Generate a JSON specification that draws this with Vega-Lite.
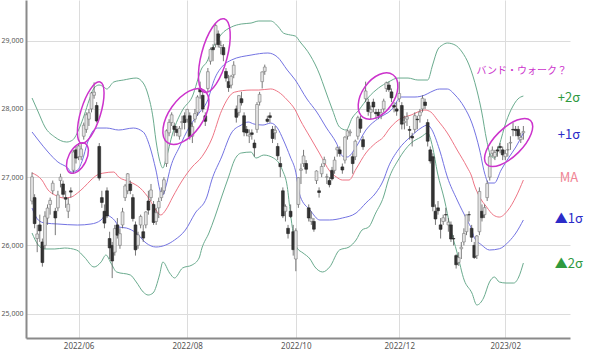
{
"$schema":"https://vega.github.io/schema/vega-lite/v6.json",
"width":544,"height":338,
"autosize":{"type":"none"},
"padding":{"left":26,"top":0,"right":30,"bottom":13},
"background":"white",
"config":{"view":{"stroke":null},"axis":{"gridColor":"#dcdcdc","gridWidth":1,"domainColor":"#8a8a8a","domainWidth":2,"ticks":false,"labelColor":"#555","labelFont":"Noto Sans"},"axisY":{"labelFontSize":7,"labelPadding":3},"axisX":{"labelFontSize":8,"labelPadding":4}},
"datasets":{
"candles":[
{"i":0,"o":26650,"h":27070,"l":26600,"c":27003},{"i":1,"o":26700,"h":26750,"l":26250,"c":26319},{"i":2,"o":26100,"h":26300,"l":25900,"c":26167},{"i":3,"o":26300,"h":26450,"l":26050,"c":26213},{"i":4,"o":26050,"h":26100,"l":25688,"c":25748},{"i":5,"o":26000,"h":26500,"l":25950,"c":26427},{"i":6,"o":26400,"h":26600,"l":26300,"c":26547},{"i":7,"o":26600,"h":26700,"l":26450,"c":26659},{"i":8,"o":26800,"h":26950,"l":26750,"c":26911},{"i":9,"o":26500,"h":26550,"l":26150,"c":26402},
{"i":10,"o":26550,"h":26800,"l":26500,"c":26739},{"i":11,"o":26950,"h":27050,"l":26850,"c":27001},{"i":12,"o":26900,"h":26950,"l":26700,"c":26748},{"i":13,"o":26700,"h":26800,"l":26550,"c":26677},{"i":14,"o":26500,"h":26700,"l":26400,"c":26604},{"i":15,"o":26800,"h":26850,"l":26700,"c":26781},{"i":16,"o":27100,"h":27400,"l":27050,"c":27369},{"i":17,"o":27400,"h":27450,"l":27200,"c":27279},{"i":18,"o":27300,"h":27500,"l":27250,"c":27457},{"i":19,"o":27300,"h":27500,"l":27250,"c":27413},
{"i":20,"o":27600,"h":27800,"l":27550,"c":27761},{"i":21,"o":27700,"h":27950,"l":27650,"c":27915},{"i":22,"o":27850,"h":28000,"l":27750,"c":27943},{"i":23,"o":28000,"h":28250,"l":27950,"c":28234},{"i":24,"o":28200,"h":28389,"l":28150,"c":28246},{"i":25,"o":28050,"h":28100,"l":27800,"c":27824},{"i":26,"o":27450,"h":27500,"l":26950,"c":26987},{"i":27,"o":26700,"h":26800,"l":26550,"c":26629},{"i":28,"o":26500,"h":26600,"l":26250,"c":26326},{"i":29,"o":26800,"h":26850,"l":26400,"c":26431},
{"i":30,"o":26100,"h":26200,"l":25800,"c":25963},{"i":31,"o":26000,"h":26050,"l":25520,"c":25771},{"i":32,"o":25900,"h":26300,"l":25850,"c":26246},{"i":33,"o":26300,"h":26400,"l":26100,"c":26149},{"i":34,"o":26000,"h":26250,"l":25950,"c":26171},{"i":35,"o":26300,"h":26550,"l":26250,"c":26491},{"i":36,"o":26700,"h":26900,"l":26650,"c":26871},{"i":37,"o":26800,"h":27060,"l":26750,"c":27049},{"i":38,"o":26900,"h":26950,"l":26750,"c":26804},{"i":39,"o":26700,"h":26750,"l":26350,"c":26393},
{"i":40,"o":26300,"h":26350,"l":25850,"c":25935},{"i":41,"o":26000,"h":26200,"l":25950,"c":26153},{"i":42,"o":26300,"h":26450,"l":26250,"c":26423},{"i":43,"o":26200,"h":26300,"l":26050,"c":26107},{"i":44,"o":26300,"h":26500,"l":26250,"c":26490},{"i":45,"o":26650,"h":26800,"l":26450,"c":26517},{"i":46,"o":26700,"h":26900,"l":26650,"c":26812},{"i":47,"o":26600,"h":26650,"l":26300,"c":26336},{"i":48,"o":26350,"h":26550,"l":26300,"c":26478},{"i":49,"o":26550,"h":26700,"l":26400,"c":26643},
{"i":50,"o":26700,"h":26850,"l":26650,"c":26788},{"i":51,"o":26800,"h":27000,"l":26750,"c":26961},{"i":52,"o":27200,"h":27700,"l":27150,"c":27680},{"i":53,"o":27650,"h":27850,"l":27600,"c":27803},{"i":54,"o":27800,"h":27950,"l":27750,"c":27914},{"i":55,"o":27750,"h":27800,"l":27600,"c":27699},{"i":56,"o":27700,"h":27750,"l":27600,"c":27655},{"i":57,"o":27600,"h":27750,"l":27550,"c":27715},{"i":58,"o":27800,"h":27900,"l":27700,"c":27815},{"i":59,"o":27900,"h":27950,"l":27700,"c":27801},
{"i":60,"o":27850,"h":28000,"l":27800,"c":27993},{"i":61,"o":27900,"h":27950,"l":27550,"c":27594},{"i":62,"o":27600,"h":27800,"l":27500,"c":27741},{"i":63,"o":27850,"h":28000,"l":27800,"c":27932},{"i":64,"o":27950,"h":28200,"l":27900,"c":28175},{"i":65,"o":28300,"h":28400,"l":28150,"c":28249},{"i":66,"o":28200,"h":28250,"l":27950,"c":27999},{"i":67,"o":27900,"h":27950,"l":27750,"c":27819},{"i":68,"o":28300,"h":28600,"l":28250,"c":28546},{"i":69,"o":28700,"h":28900,"l":28650,"c":28871},
{"i":70,"o":28900,"h":28950,"l":28700,"c":28868},{"i":71,"o":28950,"h":29250,"l":28900,"c":29222},{"i":72,"o":29100,"h":29150,"l":28900,"c":28942},{"i":73,"o":28900,"h":29000,"l":28800,"c":28930},{"i":74,"o":28900,"h":28950,"l":28700,"c":28794},{"i":75,"o":28550,"h":28600,"l":28400,"c":28452},{"i":76,"o":28400,"h":28500,"l":28250,"c":28313},{"i":77,"o":28350,"h":28500,"l":28300,"c":28479},{"i":78,"o":28500,"h":28700,"l":28450,"c":28641},{"i":79,"o":28000,"h":28050,"l":27800,"c":27878},
{"i":80,"o":27950,"h":28200,"l":27900,"c":28195},{"i":81,"o":28150,"h":28250,"l":28050,"c":28091},{"i":82,"o":27900,"h":27950,"l":27600,"c":27661},{"i":83,"o":27700,"h":27750,"l":27600,"c":27650},{"i":84,"o":27600,"h":27700,"l":27500,"c":27619},{"i":85,"o":27650,"h":27700,"l":27550,"c":27626},{"i":86,"o":27500,"h":27550,"l":27300,"c":27430},{"i":87,"o":27700,"h":28100,"l":27650,"c":28065},{"i":88,"o":28100,"h":28250,"l":28050,"c":28214},{"i":89,"o":28400,"h":28550,"l":28300,"c":28542},
{"i":90,"o":28550,"h":28650,"l":28500,"c":28614},{"i":91,"o":27850,"h":27900,"l":27800,"c":27818},{"i":92,"o":27900,"h":27950,"l":27800,"c":27875},{"i":93,"o":27700,"h":27750,"l":27500,"c":27567},{"i":94,"o":27650,"h":27750,"l":27550,"c":27688},{"i":95,"o":27450,"h":27500,"l":27250,"c":27313},{"i":96,"o":27200,"h":27300,"l":27000,"c":27153},{"i":97,"o":26800,"h":26850,"l":26400,"c":26431},{"i":98,"o":26500,"h":26600,"l":26350,"c":26571},{"i":99,"o":26250,"h":26300,"l":26100,"c":26173},
{"i":100,"o":26500,"h":26600,"l":26400,"c":26422},{"i":101,"o":26200,"h":26300,"l":25850,"c":25937},{"i":102,"o":25800,"h":26250,"l":25621,"c":26215},{"i":103,"o":26600,"h":27000,"l":26550,"c":26992},{"i":104,"o":27100,"h":27200,"l":26900,"c":27120},{"i":105,"o":27200,"h":27400,"l":27150,"c":27311},{"i":106,"o":27200,"h":27250,"l":27050,"c":27116},{"i":107,"o":26550,"h":26600,"l":26350,"c":26401},{"i":108,"o":26350,"h":26500,"l":26300,"c":26397},{"i":109,"o":26350,"h":26400,"l":26200,"c":26237},
{"i":110,"o":26950,"h":27100,"l":26900,"c":27090},{"i":111,"o":26800,"h":26850,"l":26700,"c":26775},{"i":112,"o":27050,"h":27200,"l":27000,"c":27156},{"i":113,"o":27200,"h":27300,"l":27150,"c":27257},{"i":114,"o":27000,"h":27050,"l":26900,"c":27006},{"i":115,"o":26950,"h":27000,"l":26850,"c":26890},{"i":116,"o":27100,"h":27150,"l":26950,"c":26974},{"i":117,"o":27100,"h":27300,"l":27050,"c":27250},{"i":118,"o":27400,"h":27450,"l":27300,"c":27431},{"i":119,"o":27400,"h":27450,"l":27300,"c":27345},
{"i":120,"o":27150,"h":27200,"l":27050,"c":27105},{"i":121,"o":27250,"h":27600,"l":27200,"c":27587},{"i":122,"o":27600,"h":27700,"l":27550,"c":27678},{"i":123,"o":27650,"h":27700,"l":27600,"c":27663},{"i":124,"o":27300,"h":27350,"l":27050,"c":27199},{"i":125,"o":27300,"h":27550,"l":27250,"c":27527},{"i":126,"o":27600,"h":27900,"l":27550,"c":27872},{"i":127,"o":27850,"h":27900,"l":27650,"c":27716},{"i":128,"o":27550,"h":27600,"l":27400,"c":27446},{"i":129,"o":28150,"h":28400,"l":28100,"c":28263},
{"i":130,"o":28100,"h":28150,"l":27900,"c":27963},{"i":131,"o":27950,"h":28050,"l":27850,"c":27990},{"i":132,"o":28100,"h":28150,"l":27950,"c":28028},{"i":133,"o":27950,"h":28000,"l":27850,"c":27930},{"i":134,"o":27950,"h":28000,"l":27850,"c":27899},{"i":135,"o":27900,"h":28000,"l":27850,"c":27944},{"i":136,"o":28000,"h":28150,"l":27950,"c":28115},{"i":137,"o":28300,"h":28400,"l":28250,"c":28383},{"i":138,"o":28350,"h":28400,"l":28250,"c":28283},{"i":139,"o":28250,"h":28300,"l":28100,"c":28162},
{"i":140,"o":28050,"h":28100,"l":27950,"c":28027},{"i":141,"o":28000,"h":28100,"l":27900,"c":27968},{"i":142,"o":28150,"h":28400,"l":28100,"c":28226},{"i":143,"o":28050,"h":28100,"l":27700,"c":27777},{"i":144,"o":27800,"h":27900,"l":27700,"c":27820},{"i":145,"o":27850,"h":27950,"l":27750,"c":27885},{"i":146,"o":27700,"h":27750,"l":27550,"c":27686},{"i":147,"o":27600,"h":27650,"l":27450,"c":27574},{"i":148,"o":27700,"h":27950,"l":27650,"c":27901},{"i":149,"o":27850,"h":27900,"l":27700,"c":27842},
{"i":150,"o":27900,"h":28000,"l":27800,"c":27954},{"i":151,"o":28000,"h":28200,"l":27950,"c":28156},{"i":152,"o":28100,"h":28150,"l":28000,"c":28051},{"i":153,"o":27800,"h":27850,"l":27450,"c":27527},{"i":154,"o":27400,"h":27450,"l":27200,"c":27237},{"i":155,"o":27300,"h":27350,"l":26500,"c":26568},{"i":156,"o":26500,"h":26600,"l":26300,"c":26387},{"i":157,"o":26550,"h":26650,"l":26450,"c":26507},{"i":158,"o":26300,"h":26400,"l":26100,"c":26235},{"i":159,"o":26350,"h":26450,"l":26300,"c":26405},
{"i":160,"o":26450,"h":26550,"l":26350,"c":26447},{"i":161,"o":26300,"h":26400,"l":26200,"c":26340},{"i":162,"o":26300,"h":26350,"l":26050,"c":26093},{"i":163,"o":26100,"h":26150,"l":26000,"c":26094},{"i":164,"o":25850,"h":25870,"l":25660,"c":25716},{"i":165,"o":25750,"h":25900,"l":25700,"c":25820},{"i":166,"o":25950,"h":26050,"l":25800,"c":25973},{"i":167,"o":26050,"h":26250,"l":26000,"c":26175},{"i":168,"o":26200,"h":26450,"l":26150,"c":26446},{"i":169,"o":26450,"h":26500,"l":26350,"c":26449},
{"i":170,"o":26250,"h":26300,"l":26050,"c":26119},{"i":171,"o":26000,"h":26050,"l":25800,"c":25822},{"i":172,"o":25850,"h":26150,"l":25800,"c":26138},{"i":173,"o":26200,"h":26850,"l":26150,"c":26791},{"i":174,"o":26500,"h":26600,"l":26350,"c":26405},{"i":175,"o":26450,"h":26600,"l":26400,"c":26553},{"i":176,"o":26700,"h":26950,"l":26650,"c":26906},{"i":177,"o":27000,"h":27350,"l":26950,"c":27299},{"i":178,"o":27350,"h":27450,"l":27300,"c":27395},{"i":179,"o":27300,"h":27400,"l":27250,"c":27362},
{"i":180,"o":27400,"h":27450,"l":27300,"c":27382},{"i":181,"o":27450,"h":27500,"l":27350,"c":27433},{"i":182,"o":27400,"h":27450,"l":27250,"c":27327},{"i":183,"o":27300,"h":27400,"l":27250,"c":27346},{"i":184,"o":27400,"h":27500,"l":27300,"c":27402},{"i":185,"o":27500,"h":27600,"l":27400,"c":27509},{"i":186,"o":27700,"h":27800,"l":27600,"c":27693},{"i":187,"o":27700,"h":27750,"l":27600,"c":27685},{"i":188,"o":27700,"h":27750,"l":27550,"c":27606},{"i":189,"o":27550,"h":27650,"l":27500,"c":27584},
{"i":190,"o":27650,"h":27750,"l":27550,"c":27670}
],
"bands":[
{"b":"u2","i":0,"p":28160},{"b":"u2","i":2.4,"p":27955},{"b":"u2","i":5,"p":27735},{"b":"u2","i":8.8,"p":27588},{"b":"u2","i":13.4,"p":27515},{"b":"u2","i":15.7,"p":27544},{"b":"u2","i":18.3,"p":27720},{"b":"u2","i":20.2,"p":27911},{"b":"u2","i":22.1,"p":28131},{"b":"u2","i":24,"p":28307},{"b":"u2","i":25.9,"p":28351},{"b":"u2","i":27.8,"p":28321},{"b":"u2","i":28.9,"p":28292},{"b":"u2","i":31.6,"p":28395},{"b":"u2","i":35.4,"p":28424},{"b":"u2","i":40.3,"p":28453},{"b":"u2","i":43,"p":28380},{"b":"u2","i":44.9,"p":28204},{"b":"u2","i":46.8,"p":27867},{"b":"u2","i":47.9,"p":27544},{"b":"u2","i":49.3,"p":27251},{"b":"u2","i":50.6,"p":27134},{"b":"u2","i":51.7,"p":27251},{"b":"u2","i":54.4,"p":27647},{"b":"u2","i":58.2,"p":27984},{"b":"u2","i":61.9,"p":28175},{"b":"u2","i":65.7,"p":28600},{"b":"u2","i":67.6,"p":28690},{"b":"u2","i":69.5,"p":28864},{"b":"u2","i":73.3,"p":29098},{"b":"u2","i":77.1,"p":29201},{"b":"u2","i":80.9,"p":29245},{"b":"u2","i":84.7,"p":29259},{"b":"u2","i":87.7,"p":29289},{"b":"u2","i":92.3,"p":29289},{"b":"u2","i":95.3,"p":29201},{"b":"u2","i":97.2,"p":29113},{"b":"u2","i":99.9,"p":29084},{"b":"u2","i":101.8,"p":29069},{"b":"u2","i":103.7,"p":28981},{"b":"u2","i":107.5,"p":28790},{"b":"u2","i":111.3,"p":28497},{"b":"u2","i":113.1,"p":28307},{"b":"u2","i":116.2,"p":27984},{"b":"u2","i":118.9,"p":27735},{"b":"u2","i":121.5,"p":27691},{"b":"u2","i":123.8,"p":27867},{"b":"u2","i":126.4,"p":27984},{"b":"u2","i":130.2,"p":28175},{"b":"u2","i":134,"p":28307},{"b":"u2","i":137.8,"p":28395},{"b":"u2","i":141.6,"p":28453},{"b":"u2","i":145.4,"p":28453},{"b":"u2","i":149.2,"p":28424},{"b":"u2","i":153,"p":28424},{"b":"u2","i":154.9,"p":28644},{"b":"u2","i":156.8,"p":28864},{"b":"u2","i":158.7,"p":28937},{"b":"u2","i":160.6,"p":28966},{"b":"u2","i":163.6,"p":28937},{"b":"u2","i":166.3,"p":28834},{"b":"u2","i":169,"p":28644},{"b":"u2","i":172,"p":28277},{"b":"u2","i":173.9,"p":27955},{"b":"u2","i":175.8,"p":27544},{"b":"u2","i":177.3,"p":27324},{"b":"u2","i":178.8,"p":27280},{"b":"u2","i":180.7,"p":27471},{"b":"u2","i":183.3,"p":27808},{"b":"u2","i":186,"p":28043},{"b":"u2","i":187.9,"p":28146},{"b":"u2","i":190,"p":28189},
{"b":"u1","i":0,"p":27662},{"b":"u1","i":2.4,"p":27544},{"b":"u1","i":6.2,"p":27368},{"b":"u1","i":10,"p":27222},{"b":"u1","i":13.8,"p":27134},{"b":"u1","i":15.2,"p":27075},{"b":"u1","i":17.6,"p":27105},{"b":"u1","i":19.5,"p":27251},{"b":"u1","i":21.4,"p":27500},{"b":"u1","i":23.3,"p":27662},{"b":"u1","i":25.2,"p":27720},{"b":"u1","i":28.9,"p":27720},{"b":"u1","i":33.5,"p":27691},{"b":"u1","i":39.2,"p":27720},{"b":"u1","i":43,"p":27662},{"b":"u1","i":45.6,"p":27442},{"b":"u1","i":47.9,"p":27105},{"b":"u1","i":49.8,"p":26768},{"b":"u1","i":50.6,"p":26739},{"b":"u1","i":51.7,"p":26856},{"b":"u1","i":53.6,"p":27149},{"b":"u1","i":57,"p":27442},{"b":"u1","i":60.8,"p":27735},{"b":"u1","i":64.6,"p":27940},{"b":"u1","i":67.6,"p":28100},{"b":"u1","i":70.7,"p":28450},{"b":"u1","i":74.1,"p":28644},{"b":"u1","i":77.1,"p":28717},{"b":"u1","i":84.7,"p":28790},{"b":"u1","i":91.2,"p":28820},{"b":"u1","i":94.9,"p":28761},{"b":"u1","i":98.7,"p":28570},{"b":"u1","i":101.8,"p":28424},{"b":"u1","i":106.3,"p":28146},{"b":"u1","i":110.1,"p":27955},{"b":"u1","i":113.9,"p":27720},{"b":"u1","i":117.7,"p":27500},{"b":"u1","i":120,"p":27310},{"b":"u1","i":121.9,"p":27295},{"b":"u1","i":125.3,"p":27442},{"b":"u1","i":129.1,"p":27691},{"b":"u1","i":134,"p":27864},{"b":"u1","i":138.9,"p":27984},{"b":"u1","i":142.8,"p":28175},{"b":"u1","i":148.1,"p":28175},{"b":"u1","i":151.9,"p":28204},{"b":"u1","i":154.2,"p":28248},{"b":"u1","i":157.6,"p":28292},{"b":"u1","i":160.6,"p":28292},{"b":"u1","i":163.6,"p":28204},{"b":"u1","i":167.1,"p":28028},{"b":"u1","i":170.1,"p":27793},{"b":"u1","i":173.1,"p":27398},{"b":"u1","i":175,"p":27061},{"b":"u1","i":176.6,"p":26914},{"b":"u1","i":178.8,"p":26914},{"b":"u1","i":181.4,"p":27105},{"b":"u1","i":184.5,"p":27295},{"b":"u1","i":187.1,"p":27442},{"b":"u1","i":190,"p":27647},
{"b":"ma","i":0,"p":27061},{"b":"ma","i":3.8,"p":26958},{"b":"ma","i":6.2,"p":26812},{"b":"ma","i":8.8,"p":26739},{"b":"ma","i":12.6,"p":26694},{"b":"ma","i":15.2,"p":26709},{"b":"ma","i":17.6,"p":26768},{"b":"ma","i":20.2,"p":26856},{"b":"ma","i":22.8,"p":26958},{"b":"ma","i":25.2,"p":27032},{"b":"ma","i":27.8,"p":27061},{"b":"ma","i":31.6,"p":27075},{"b":"ma","i":33.5,"p":27002},{"b":"ma","i":38,"p":26929},{"b":"ma","i":41.8,"p":26841},{"b":"ma","i":45.6,"p":26665},{"b":"ma","i":47.9,"p":26518},{"b":"ma","i":49.8,"p":26445},{"b":"ma","i":51.7,"p":26518},{"b":"ma","i":54.4,"p":26709},{"b":"ma","i":58.2,"p":26958},{"b":"ma","i":61.9,"p":27149},{"b":"ma","i":65.7,"p":27300},{"b":"ma","i":69.5,"p":27560},{"b":"ma","i":73.3,"p":27974},{"b":"ma","i":78.3,"p":28246},{"b":"ma","i":84.7,"p":28277},{"b":"ma","i":87.7,"p":28277},{"b":"ma","i":92.3,"p":28293},{"b":"ma","i":95.3,"p":28248},{"b":"ma","i":98.7,"p":28131},{"b":"ma","i":101.8,"p":27984},{"b":"ma","i":103.7,"p":27838},{"b":"ma","i":107.5,"p":27588},{"b":"ma","i":111.3,"p":27340},{"b":"ma","i":115.1,"p":27090},{"b":"ma","i":117.7,"p":27002},{"b":"ma","i":120,"p":26958},{"b":"ma","i":122.6,"p":26958},{"b":"ma","i":125.3,"p":27120},{"b":"ma","i":129.1,"p":27354},{"b":"ma","i":132.9,"p":27500},{"b":"ma","i":135.9,"p":27588},{"b":"ma","i":137.8,"p":27691},{"b":"ma","i":141.6,"p":27837},{"b":"ma","i":146.6,"p":27911},{"b":"ma","i":151.9,"p":27984},{"b":"ma","i":154.2,"p":27955},{"b":"ma","i":156.8,"p":27837},{"b":"ma","i":160.6,"p":27647},{"b":"ma","i":164.4,"p":27398},{"b":"ma","i":168.2,"p":27149},{"b":"ma","i":170.1,"p":27002},{"b":"ma","i":170.9,"p":26900},{"b":"ma","i":173.1,"p":26709},{"b":"ma","i":175.8,"p":26562},{"b":"ma","i":178.4,"p":26445},{"b":"ma","i":180.7,"p":26415},{"b":"ma","i":184.1,"p":26518},{"b":"ma","i":187.1,"p":26709},{"b":"ma","i":190,"p":26958},
{"b":"l1","i":0,"p":26547},{"b":"l1","i":2.4,"p":26372},{"b":"l1","i":5,"p":26327},{"b":"l1","i":10,"p":26313},{"b":"l1","i":17.6,"p":26298},{"b":"l1","i":22.8,"p":26313},{"b":"l1","i":26.7,"p":26372},{"b":"l1","i":28.6,"p":26445},{"b":"l1","i":30.5,"p":26415},{"b":"l1","i":32.4,"p":26342},{"b":"l1","i":33.5,"p":26269},{"b":"l1","i":36.5,"p":26254},{"b":"l1","i":40.3,"p":26181},{"b":"l1","i":44.1,"p":26034},{"b":"l1","i":47.9,"p":25976},{"b":"l1","i":51.7,"p":26005},{"b":"l1","i":55.1,"p":26078},{"b":"l1","i":59.3,"p":26225},{"b":"l1","i":63.1,"p":26474},{"b":"l1","i":67.6,"p":26709},{"b":"l1","i":69.5,"p":26958},{"b":"l1","i":73.3,"p":27295},{"b":"l1","i":77.1,"p":27647},{"b":"l1","i":80.9,"p":27764},{"b":"l1","i":83.6,"p":27808},{"b":"l1","i":85.8,"p":27779},{"b":"l1","i":89.3,"p":27764},{"b":"l1","i":92.3,"p":27793},{"b":"l1","i":94.9,"p":27720},{"b":"l1","i":97.2,"p":27544},{"b":"l1","i":99.9,"p":27295},{"b":"l1","i":101.8,"p":27105},{"b":"l1","i":103.7,"p":26720},{"b":"l1","i":107.5,"p":26518},{"b":"l1","i":111.3,"p":26372},{"b":"l1","i":115.1,"p":26372},{"b":"l1","i":120,"p":26401},{"b":"l1","i":125.3,"p":26474},{"b":"l1","i":129.1,"p":26621},{"b":"l1","i":132.9,"p":26768},{"b":"l1","i":135.9,"p":26958},{"b":"l1","i":137.8,"p":27150},{"b":"l1","i":141.6,"p":27400},{"b":"l1","i":146.6,"p":27600},{"b":"l1","i":150.4,"p":27720},{"b":"l1","i":153,"p":27764},{"b":"l1","i":154.2,"p":27720},{"b":"l1","i":157.6,"p":27398},{"b":"l1","i":160.6,"p":27002},{"b":"l1","i":164.4,"p":26665},{"b":"l1","i":168.2,"p":26372},{"b":"l1","i":170.1,"p":26225},{"b":"l1","i":170.9,"p":26122},{"b":"l1","i":173.9,"p":26005},{"b":"l1","i":176.9,"p":25932},{"b":"l1","i":180.7,"p":25950},{"b":"l1","i":184.5,"p":26060},{"b":"l1","i":187.1,"p":26181},{"b":"l1","i":190,"p":26372},
{"b":"l2","i":0,"p":26181},{"b":"l2","i":2.4,"p":26005},{"b":"l2","i":5,"p":25947},{"b":"l2","i":8.8,"p":25947},{"b":"l2","i":12.6,"p":25961},{"b":"l2","i":17.2,"p":25932},{"b":"l2","i":20.2,"p":25829},{"b":"l2","i":24,"p":25683},{"b":"l2","i":26.7,"p":25756},{"b":"l2","i":28.6,"p":25859},{"b":"l2","i":30.5,"p":25741},{"b":"l2","i":32.7,"p":25610},{"b":"l2","i":38,"p":25566},{"b":"l2","i":40.3,"p":25463},{"b":"l2","i":43,"p":25316},{"b":"l2","i":44.9,"p":25272},{"b":"l2","i":46.8,"p":25302},{"b":"l2","i":49.3,"p":25566},{"b":"l2","i":50.6,"p":25756},{"b":"l2","i":53.2,"p":25595},{"b":"l2","i":55.1,"p":25522},{"b":"l2","i":58.2,"p":25668},{"b":"l2","i":61.9,"p":25712},{"b":"l2","i":64.6,"p":25815},{"b":"l2","i":65.7,"p":25961},{"b":"l2","i":68.4,"p":26181},{"b":"l2","i":70.7,"p":26415},{"b":"l2","i":73.3,"p":26709},{"b":"l2","i":76,"p":27002},{"b":"l2","i":78.3,"p":27251},{"b":"l2","i":80.9,"p":27354},{"b":"l2","i":84.7,"p":27368},{"b":"l2","i":86.6,"p":27280},{"b":"l2","i":89.6,"p":27324},{"b":"l2","i":93.4,"p":27280},{"b":"l2","i":96.8,"p":27105},{"b":"l2","i":98.7,"p":26860},{"b":"l2","i":99.9,"p":26474},{"b":"l2","i":101,"p":26181},{"b":"l2","i":102.5,"p":25961},{"b":"l2","i":104.8,"p":25888},{"b":"l2","i":107.5,"p":25800},{"b":"l2","i":109.4,"p":25683},{"b":"l2","i":112.4,"p":25610},{"b":"l2","i":115.1,"p":25683},{"b":"l2","i":118.9,"p":25932},{"b":"l2","i":122.6,"p":25976},{"b":"l2","i":125.3,"p":26078},{"b":"l2","i":127.6,"p":26225},{"b":"l2","i":130.2,"p":26269},{"b":"l2","i":132.9,"p":26474},{"b":"l2","i":135.9,"p":26709},{"b":"l2","i":137.8,"p":26958},{"b":"l2","i":141.6,"p":27251},{"b":"l2","i":146.6,"p":27500},{"b":"l2","i":150.4,"p":27588},{"b":"l2","i":153,"p":27647},{"b":"l2","i":154.9,"p":27442},{"b":"l2","i":156.8,"p":27061},{"b":"l2","i":159.5,"p":26665},{"b":"l2","i":161.7,"p":26269},{"b":"l2","i":164.4,"p":25888},{"b":"l2","i":167.1,"p":25492},{"b":"l2","i":170.1,"p":25302},{"b":"l2","i":172,"p":25126},{"b":"l2","i":174.6,"p":25228},{"b":"l2","i":176.9,"p":25463},{"b":"l2","i":178.8,"p":25536},{"b":"l2","i":180.7,"p":25463},{"b":"l2","i":183.3,"p":25448},{"b":"l2","i":186.3,"p":25448},{"b":"l2","i":188.2,"p":25536},{"b":"l2","i":190,"p":25741}
],
"ellipses":[
{"e":1,"i":17.56,"p":27280},{"e":2,"i":22.7,"p":27947},{"e":3,"i":59.5,"p":27889},{"e":4,"i":70.5,"p":28783},{"e":5,"i":133.8,"p":28189},{"e":6,"i":184.3,"p":27508}
],
"labels":[
{"t":"バンド・ウォーク？","i":189.4,"p":28556,"g":"w"},
{"t":"+2σ","i":207.6,"p":28160,"g":"s2"},
{"t":"+1σ","i":207.6,"p":27618,"g":"s1"},
{"t":"MA","i":207.6,"p":26988,"g":"m"},
{"t":"▲1σ","i":207.6,"p":26386,"g":"s1"},
{"t":"▲2σ","i":207.6,"p":25726,"g":"s2"}
]
},
"encoding":{"x":{"field":"i","type":"quantitative","title":null,"scale":{"domain":[-0.4,206.1],"nice":false,"zero":false},
 "axis":{"values":[18,60,102,142,183],"labelExpr":"datum.value==18?'2022/06':datum.value==60?'2022/08':datum.value==102?'2022/10':datum.value==142?'2022/12':'2023/02'","grid":true}}},
"layer":[
{"data":{"name":"bands"},"mark":{"type":"line","interpolate":"monotone","strokeWidth":1},
 "encoding":{"y":{"field":"p","type":"quantitative","title":null,"scale":{"domain":[24642,29597],"nice":false,"zero":false},"axis":{"values":[25000,26000,27000,28000,29000],"format":",.0f","grid":true}},
 "color":{"field":"b","type":"nominal","legend":null,"scale":{"domain":["u2","u1","ma","l1","l2"],"range":["#6aab8e","#7373e2","#ee7585","#7373e2","#6aab8e"]}}}},
{"data":{"name":"candles"},"mark":{"type":"rule","color":"#555","strokeWidth":0.8},
 "encoding":{"y":{"field":"l","type":"quantitative","title":null},"y2":{"field":"h"}}},
{"data":{"name":"candles"},"mark":{"type":"bar","size":2.8,"strokeWidth":0.6},
 "encoding":{"y":{"field":"o","type":"quantitative","title":null},"y2":{"field":"c"},
 "fill":{"condition":{"test":"datum.c<datum.o","value":"#333333"},"value":"#e4e4e4"},
 "stroke":{"condition":{"test":"datum.c<datum.o","value":"#222222"},"value":"#777777"}}},
{"data":{"name":"ellipses"},"transform":[{"filter":"datum.e==1"}],"mark":{"type":"point","shape":"M0,-1C0.301,-1,0.545,-0.552,0.545,0C0.545,0.552,0.301,1,0,1C-0.301,1,-0.545,0.552,-0.545,0C-0.545,-0.552,-0.301,-1,0,-1Z","size":1089,"angle":27,"filled":false,"stroke":"#cc33cc","strokeWidth":1.5,"opacity":1},"encoding":{"y":{"field":"p","type":"quantitative","title":null}}},
{"data":{"name":"ellipses"},"transform":[{"filter":"datum.e==2"}],"mark":{"type":"point","shape":"M0,-1C0.171,-1,0.31,-0.552,0.31,0C0.31,0.552,0.171,1,0,1C-0.171,1,-0.31,0.552,-0.31,0C-0.31,-0.552,-0.171,-1,0,-1Z","size":4096,"angle":17,"filled":false,"stroke":"#cc33cc","strokeWidth":1.5,"opacity":1},"encoding":{"y":{"field":"p","type":"quantitative","title":null}}},
{"data":{"name":"ellipses"},"transform":[{"filter":"datum.e==3"}],"mark":{"type":"point","shape":"M0,-1C0.293,-1,0.53,-0.552,0.53,0C0.53,0.552,0.293,1,0,1C-0.293,1,-0.53,0.552,-0.53,0C-0.53,-0.552,-0.293,-1,0,-1Z","size":4096,"angle":35,"filled":false,"stroke":"#cc33cc","strokeWidth":1.5,"opacity":1},"encoding":{"y":{"field":"p","type":"quantitative","title":null}}},
{"data":{"name":"ellipses"},"transform":[{"filter":"datum.e==4"}],"mark":{"type":"point","shape":"M0,-1C0.188,-1,0.34,-0.552,0.34,0C0.34,0.552,0.188,1,0,1C-0.188,1,-0.34,0.552,-0.34,0C-0.34,-0.552,-0.188,-1,0,-1Z","size":5776,"angle":15,"filled":false,"stroke":"#cc33cc","strokeWidth":1.5,"opacity":1},"encoding":{"y":{"field":"p","type":"quantitative","title":null}}},
{"data":{"name":"ellipses"},"transform":[{"filter":"datum.e==5"}],"mark":{"type":"point","shape":"M0,-1C0.34,-1,0.615,-0.552,0.615,0C0.615,0.552,0.34,1,0,1C-0.34,1,-0.615,0.552,-0.615,0C-0.615,-0.552,-0.34,-1,0,-1Z","size":2704,"angle":35,"filled":false,"stroke":"#cc33cc","strokeWidth":1.5,"opacity":1},"encoding":{"y":{"field":"p","type":"quantitative","title":null}}},
{"data":{"name":"ellipses"},"transform":[{"filter":"datum.e==6"}],"mark":{"type":"point","shape":"M0,-1C0.249,-1,0.45,-0.552,0.45,0C0.45,0.552,0.249,1,0,1C-0.249,1,-0.45,0.552,-0.45,0C-0.45,-0.552,-0.249,-1,0,-1Z","size":3844,"angle":45,"filled":false,"stroke":"#cc33cc","strokeWidth":1.5,"opacity":1},"encoding":{"y":{"field":"p","type":"quantitative","title":null}}},
{"data":{"name":"labels"},"transform":[{"filter":"datum.g=='w'"}],"mark":{"type":"text","font":"Noto Sans CJK JP","fontSize":10,"align":"center","baseline":"middle","color":"#cc33cc"},
 "encoding":{"y":{"field":"p","type":"quantitative","title":null},"text":{"field":"t"}}},
{"data":{"name":"labels"},"transform":[{"filter":"datum.g!='w'"}],"mark":{"type":"text","font":"Noto Sans CJK JP","fontSize":13,"align":"center","baseline":"middle"},
 "encoding":{"y":{"field":"p","type":"quantitative","title":null},"text":{"field":"t"},
 "fill":{"field":"g","type":"nominal","legend":null,"scale":{"domain":["s2","s1","m"],"range":["#2f9a3f","#2b2bc8","#f08595"]}}}}
]
}
